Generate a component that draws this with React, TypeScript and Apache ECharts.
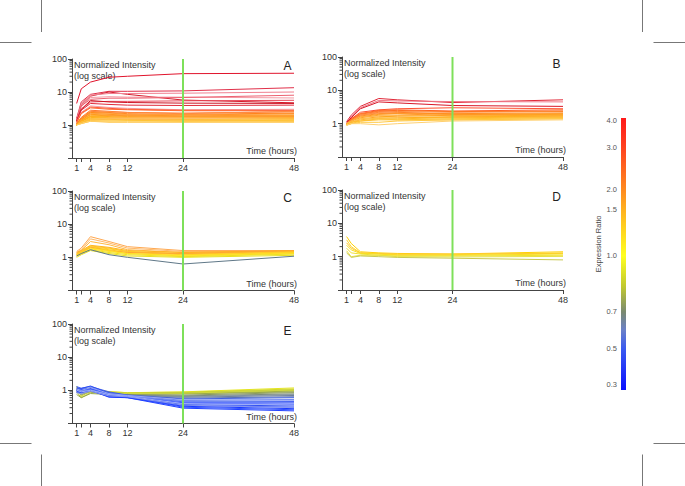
import React, { useEffect, useRef } from "react";
import * as echarts from "echarts";

// ---------- data ----------
const TIMES = [1, 2, 4, 8, 12, 24, 48];
const X_TICKS = [1, 2, 4, 8, 12, 24, 48];
const X_LABELS = [1, 4, 8, 12, 24, 48];
const Y_MINOR = [0.2, 0.3, 0.4, 0.5, 0.6, 0.7, 0.8, 0.9, 2, 3, 4, 5, 6, 7, 8, 9, 20, 30, 40, 50, 60, 70, 80, 90];
const GREEN_TIME = 24;
const PANEL_NAMES = ["A", "B", "C", "D", "E"];

const A_LINES = [
  [4.5, 12.5, 20, 28, 30, 36, 37],
  [1.6, 5.0, 8.5, 10.5, 10.5, 10.8, 13.5],
  [1.5, 4.0, 7.5, 10.0, 8.5, 5.7, 4.7],
  [1.5, 4.5, 8.0, 9.0, 9.0, 9.2, 10.0],
  [1.4, 3.6, 6.8, 7.2, 7.0, 7.0, 6.6],
  [1.4, 3.8, 6.0, 6.5, 6.5, 6.8, 8.0],
  [1.3, 3.0, 5.0, 5.2, 5.2, 5.4, 5.6],
  [1.3, 3.0, 5.5, 5.0, 4.8, 4.6, 4.5],
  [1.3, 2.8, 4.5, 4.2, 4.0, 3.9, 4.0],
  [1.2, 2.4, 3.8, 3.4, 3.2, 2.9, 3.0],
  [1.2, 2.3, 3.5, 3.2, 3.0, 2.8, 2.8],
  [1.2, 2.2, 3.3, 3.0, 2.9, 2.7, 2.7],
  [1.1, 1.7, 2.8, 2.6, 2.4, 2.3, 2.5],
  [1.1, 1.6, 2.6, 2.4, 2.2, 2.1, 2.3],
  [1.1, 1.6, 2.5, 2.5, 2.4, 2.2, 2.6],
  [1.1, 1.5, 2.4, 2.3, 2.1, 2.0, 2.2],
  [1.1, 1.5, 2.3, 2.1, 2.0, 1.9, 2.0],
  [1.0, 1.4, 2.2, 2.2, 2.1, 2.0, 2.0],
  [1.0, 1.4, 2.1, 2.0, 1.9, 1.8, 1.9],
  [1.0, 1.4, 2.0, 1.9, 1.8, 1.7, 1.8],
  [1.0, 1.3, 1.8, 1.9, 1.9, 1.8, 1.8],
  [1.0, 1.3, 1.9, 1.8, 1.7, 1.7, 1.7],
  [1.0, 1.3, 1.8, 1.7, 1.7, 1.6, 1.6],
  [1.0, 1.2, 1.6, 1.7, 1.7, 1.7, 1.7],
  [1.0, 1.3, 1.7, 1.6, 1.6, 1.5, 1.6],
  [1.0, 1.2, 1.6, 1.6, 1.5, 1.5, 1.5],
  [1.0, 1.2, 1.5, 1.6, 1.6, 1.6, 1.5],
  [1.0, 1.2, 1.5, 1.5, 1.4, 1.4, 1.4],
  [1.0, 1.2, 1.4, 1.5, 1.5, 1.4, 1.3],
  [1.0, 1.2, 1.4, 1.4, 1.4, 1.3, 1.4],
  [1.0, 1.1, 1.3, 1.3, 1.3, 1.3, 1.3],
  [1.0, 1.1, 1.3, 1.2, 1.2, 1.2, 1.2],
];
const A_COLORS = [
  "#e0142c", "#e0304a", "#d41a2a", "#f08090", "#f49aa4", "#ec6070", "#e84858", "#cc1222",
  "#e02a3a", "#f4a0a8", "#ff5a3a", "#ff6a30", "#ff7a2a", "#ff801e", "#ff8a40", "#ff8a1a",
  "#ff921a", "#ffa040", "#ff9a1a", "#ffa01e", "#ff9830", "#ffa81a", "#ffb01e", "#ffb040",
  "#ffb018", "#ffb828", "#ffc070", "#ffc020", "#ffb850", "#ffc030", "#ffc840", "#ffcc60",
];

const B_LINES = [
  [1.15, 1.8, 3.3, 5.7, 5.2, 4.3, 5.2],
  [1.1, 1.6, 3.0, 5.0, 4.8, 4.6, 4.5],
  [1.1, 1.5, 2.8, 4.5, 4.2, 3.5, 3.3],
  [1.0, 1.4, 2.2, 2.6, 2.8, 3.0, 2.8],
  [1.0, 1.4, 2.0, 2.5, 2.6, 2.4, 2.6],
  [1.0, 1.3, 1.9, 2.4, 2.5, 2.3, 2.4],
  [1.0, 1.3, 1.8, 2.2, 2.3, 2.2, 2.3],
  [1.0, 1.3, 2.0, 2.3, 2.2, 1.9, 1.8],
  [1.0, 1.2, 1.7, 2.0, 2.1, 2.0, 2.1],
  [1.0, 1.2, 1.8, 2.1, 2.0, 1.7, 1.6],
  [1.0, 1.2, 1.6, 1.9, 2.0, 1.9, 2.0],
  [1.0, 1.2, 1.5, 1.8, 1.8, 1.8, 1.9],
  [1.0, 1.2, 1.6, 1.7, 1.6, 1.5, 1.5],
  [0.95, 1.1, 1.4, 1.6, 1.7, 1.7, 1.8],
  [0.95, 1.1, 1.3, 1.5, 1.5, 1.6, 1.7],
  [1.0, 1.1, 1.4, 1.4, 1.3, 1.3, 1.4],
  [0.95, 1.1, 1.2, 1.4, 1.4, 1.5, 1.6],
  [0.9, 1.0, 1.2, 1.3, 1.3, 1.4, 1.5],
  [0.9, 1.0, 1.1, 1.1, 1.2, 1.3, 1.4],
  [0.9, 1.0, 1.0, 0.92, 1.0, 1.2, 1.3],
];
const B_COLORS = [
  "#e02838", "#f07888", "#d81828", "#ff5030", "#ff6020", "#ff7020", "#ff8020", "#ff7a30",
  "#ff8c20", "#ff9040", "#ff9820", "#ffa020", "#ffb040", "#ffa820", "#ffb020", "#ffc050",
  "#ffb828", "#ffc030", "#ffc840", "#ffd070",
];

const C_LINES = [
  [1.5, 1.9, 4.2, 3.0, 2.1, 1.6, 1.6],
  [1.4, 1.7, 3.6, 2.7, 1.9, 1.5, 1.5],
  [1.3, 1.6, 3.0, 2.4, 1.7, 1.4, 1.5],
  [1.4, 1.6, 2.3, 2.0, 1.6, 1.4, 1.6],
  [1.3, 1.5, 2.2, 1.9, 1.5, 1.3, 1.5],
  [1.2, 1.5, 2.1, 1.8, 1.5, 1.25, 1.45],
  [1.2, 1.4, 2.0, 1.7, 1.4, 1.2, 1.4],
  [1.2, 1.4, 2.0, 1.6, 1.4, 1.3, 1.6],
  [1.2, 1.4, 1.9, 1.6, 1.3, 1.15, 1.35],
  [1.1, 1.3, 1.8, 1.5, 1.3, 1.1, 1.3],
  [1.1, 1.3, 1.7, 1.4, 1.2, 1.05, 1.25],
  [1.0, 1.2, 1.6, 1.3, 1.1, 1.0, 1.15],
  [1.1, 1.3, 1.7, 1.2, 1.0, 0.63, 1.08],
];
const C_COLORS = [
  "#ffa850", "#ffb868", "#ffb840", "#ffb020", "#ffc020", "#ffc828", "#ffd020", "#ffa830",
  "#ffd820", "#ffe020", "#f0e020", "#e8e020", "#607888",
];

const D_LINES = [
  [4.0, 2.5, 1.4, 1.3, 1.25, 1.2, 1.4],
  [3.2, 2.0, 1.3, 1.2, 1.15, 1.15, 1.3],
  [2.6, 1.8, 1.3, 1.25, 1.2, 1.2, 1.25],
  [2.2, 1.6, 1.25, 1.2, 1.1, 1.1, 1.2],
  [1.8, 1.3, 1.2, 1.1, 1.05, 1.05, 1.1],
  [1.5, 1.0, 1.1, 1.1, 1.0, 0.98, 1.02],
  [1.3, 0.95, 1.05, 1.0, 0.95, 0.9, 0.8],
];
const D_COLORS = ["#ffd000", "#ffd830", "#ffc830", "#f8e020", "#f0e030", "#e8e040", "#c8c850"];

const E_LINES = [
  [1.1, 0.9, 1.05, 0.92, 0.85, 0.9, 1.18],
  [1.0, 0.8, 1.0, 0.9, 0.85, 0.88, 1.1],
  [1.3, 0.65, 0.98, 0.88, 0.82, 0.85, 1.05],
  [0.9, 0.6, 0.85, 0.85, 0.8, 0.83, 1.0],
  [1.0, 0.72, 0.9, 0.8, 0.78, 0.8, 0.95],
  [0.75, 0.6, 0.8, 0.75, 0.76, 0.78, 0.9],
  [1.05, 0.7, 0.92, 0.84, 0.8, 0.82, 1.02],
  [1.15, 0.9, 1.0, 0.72, 0.74, 0.72, 0.85],
  [1.0, 0.85, 0.92, 0.7, 0.7, 0.68, 0.78],
  [1.25, 1.05, 1.15, 0.8, 0.72, 0.62, 0.7],
  [1.0, 0.9, 1.0, 0.68, 0.68, 0.58, 0.64],
  [0.9, 0.75, 0.95, 0.66, 0.68, 0.65, 0.74],
  [1.1, 1.15, 1.3, 0.9, 0.72, 0.55, 0.6],
  [1.0, 1.0, 1.2, 0.85, 0.7, 0.5, 0.52],
  [1.3, 1.15, 1.35, 0.82, 0.7, 0.45, 0.46],
  [1.0, 1.05, 1.15, 0.76, 0.66, 0.42, 0.42],
  [1.15, 1.0, 1.1, 0.78, 0.68, 0.4, 0.38],
  [0.85, 0.95, 1.1, 0.72, 0.64, 0.37, 0.34],
  [1.0, 1.1, 1.05, 0.7, 0.62, 0.35, 0.31],
  [0.95, 0.9, 1.0, 0.62, 0.6, 0.33, 0.28],
  [1.05, 0.95, 1.15, 0.76, 0.64, 0.31, 0.26],
  [0.9, 0.85, 1.0, 0.65, 0.6, 0.29, 0.24],
  [1.0, 0.95, 1.05, 0.75, 0.68, 0.47, 0.44],
  [1.1, 1.0, 1.2, 0.8, 0.7, 0.52, 0.5],
  [1.0, 0.9, 1.0, 0.74, 0.66, 0.4, 0.36],
  [0.85, 0.8, 0.95, 0.68, 0.64, 0.36, 0.3],
];
const E_COLORS = [
  "#e6e620", "#d8dc28", "#c8d030", "#b8c438", "#a8b440", "#98a848", "#d0d840", "#8a9a60",
  "#7a8c70", "#6a7c98", "#5a70b0", "#8090a0", "#4060e0", "#3a58ec", "#3050f4", "#2848fa",
  "#2040ff", "#2a4af0", "#2040f8", "#1838ff", "#3050ff", "#2040ff", "#7088f0", "#98a8f4",
  "#a0b0f8", "#8898f0",
];

const PANEL_LINES = [A_LINES, B_LINES, C_LINES, D_LINES, E_LINES];
const PANEL_COLORS = [A_COLORS, B_COLORS, C_COLORS, D_COLORS, E_COLORS];

const COLORBAR_LABELS = [4.0, 3.0, 2.0, 1.5, 1.0, 0.7, 0.5, 0.3];

// ---------- layout ----------
const GRIDS = [
  { left: 72, top: 59, width: 222, height: 99 },
  { left: 342, top: 57, width: 221, height: 100 },
  { left: 72, top: 191, width: 222, height: 99.5 },
  { left: 342, top: 190, width: 221, height: 100 },
  { left: 72, top: 324, width: 222, height: 99.5 },
];
const BAR = { x: 621, y: 118, w: 5, h: 272 };
const COLORBAR_LABEL_FRAC = [0.01, 0.107, 0.263, 0.335, 0.507, 0.713, 0.849, 0.978];
const FONT = "'Liberation Sans', Arial, sans-serif";
const TEXT = "#333";

export default function App() {
  const ref = useRef<HTMLDivElement>(null);
  useEffect(() => {
    if (!ref.current) return;
    const chart = echarts.init(ref.current, null, { renderer: "svg" });

    const xAxis: any[] = [];
    const yAxis: any[] = [];
    const series: any[] = [];
    const graphic: any[] = [];

    GRIDS.forEach((g, p) => {
      xAxis.push({
        type: "value",
        gridIndex: p,
        min: 0,
        max: 48,
        axisLine: { show: true, lineStyle: { color: "#444", width: 1 } },
        axisTick: { show: true, length: 4, customValues: X_TICKS, lineStyle: { color: "#444" } },
        axisLabel: { customValues: X_LABELS, fontSize: 9, color: TEXT, fontFamily: FONT, margin: 5 },
        splitLine: { show: false },
      });
      yAxis.push({
        type: "log",
        logBase: 10,
        gridIndex: p,
        min: 0.1,
        max: 100,
        splitNumber: 3,
        axisLine: { show: true, lineStyle: { color: "#444", width: 1 } },
        axisTick: { show: true, length: 4, lineStyle: { color: "#444" } },
        axisLabel: {
          fontSize: 9,
          color: TEXT,
          fontFamily: FONT,
          margin: 5,
          formatter: (v: number) => (v >= 0.99 ? String(Math.round(v)) : ""),
        },
        splitLine: { show: false },
      });

      PANEL_LINES[p].forEach((vals, i) => {
        series.push({
          type: "line",
          xAxisIndex: p,
          yAxisIndex: p,
          data: TIMES.map((t, k) => [t, vals[k]]),
          symbol: "none",
          silent: true,
          lineStyle: { width: 1, color: PANEL_COLORS[p][i] },
          itemStyle: { color: PANEL_COLORS[p][i] },
          z: 2,
        });
      });

      // green vertical line at 24 h
      series.push({
        type: "line",
        xAxisIndex: p,
        yAxisIndex: p,
        data: [
          [GREEN_TIME, 0.1],
          [GREEN_TIME, 100],
        ],
        symbol: "none",
        silent: true,
        lineStyle: { width: 2, color: "#7ee05a" },
        z: 4,
      });

      // log minor ticks
      series.push({
        type: "custom",
        xAxisIndex: p,
        yAxisIndex: p,
        clip: false,
        silent: true,
        data: Y_MINOR.map((v) => [0, v]),
        renderItem: (params: any, api: any) => {
          const pt = api.coord([api.value(0), api.value(1)]);
          return {
            type: "line",
            shape: { x1: pt[0] - 2.5, y1: pt[1], x2: pt[0], y2: pt[1] },
            style: { stroke: "#444", lineWidth: 1 },
          };
        },
        z: 3,
      });

      graphic.push(
        {
          type: "text",
          left: g.left + 2,
          top: g.top + 1,
          style: { text: "Normalized Intensity", font: `9px ${FONT}`, fill: TEXT },
        },
        {
          type: "text",
          left: g.left + 2,
          top: g.top + 12,
          style: { text: "(log scale)", font: `9px ${FONT}`, fill: TEXT },
        },
        {
          type: "text",
          x: g.left + g.width - 6.5,
          y: g.top + 6.5,
          style: {
            text: PANEL_NAMES[p],
            font: `12px ${FONT}`,
            fill: "#222",
            align: "center",
            verticalAlign: "middle",
          },
        },
        {
          type: "text",
          x: g.left + g.width + 3,
          y: g.top + g.height - 7,
          style: {
            text: "Time (hours)",
            font: `9px ${FONT}`,
            fill: TEXT,
            align: "right",
            verticalAlign: "middle",
          },
        }
      );
    });

    // colour bar
    graphic.push({
      type: "rect",
      shape: { x: BAR.x, y: BAR.y, width: BAR.w, height: BAR.h },
      style: {
        fill: new echarts.graphic.LinearGradient(0, 0, 0, 1, [
          { offset: 0, color: "#ff1a1a" },
          { offset: 0.107, color: "#ff4220" },
          { offset: 0.263, color: "#ff8a20" },
          { offset: 0.335, color: "#ffb020" },
          { offset: 0.42, color: "#ffd820" },
          { offset: 0.507, color: "#ffff20" },
          { offset: 0.62, color: "#c0c830" },
          { offset: 0.713, color: "#7a8a70" },
          { offset: 0.78, color: "#6a80c8" },
          { offset: 0.849, color: "#3a5af0" },
          { offset: 1, color: "#0a10ff" },
        ]),
      },
    });
    COLORBAR_LABELS.forEach((v, i) => {
      graphic.push({
        type: "text",
        x: BAR.x - 4,
        y: BAR.y + COLORBAR_LABEL_FRAC[i] * BAR.h,
        style: {
          text: v.toFixed(1),
          font: `7.5px ${FONT}`,
          fill: "#555",
          align: "right",
          verticalAlign: "middle",
        },
      });
    });
    graphic.push({
      type: "text",
      x: 598,
      y: BAR.y + BAR.h * 0.5 - 10,
      rotation: Math.PI / 2,
      style: {
        text: "Expression Ratio",
        font: `7.5px ${FONT}`,
        fill: "#444",
        align: "center",
        verticalAlign: "middle",
      },
    });

    // crop marks
    const cropColor = "#777";
    const crops = [
      [41.5, 0, 41.5, 32],
      [0, 42.5, 31.5, 42.5],
      [642.5, 0, 642.5, 32],
      [653.5, 42.5, 685, 42.5],
      [0, 443.5, 31.5, 443.5],
      [41.5, 454.5, 41.5, 486],
      [653.5, 443.5, 685, 443.5],
      [642.5, 454.5, 642.5, 486],
    ];
    crops.forEach((c) => {
      graphic.push({
        type: "line",
        shape: { x1: c[0], y1: c[1], x2: c[2], y2: c[3] },
        style: { stroke: cropColor, lineWidth: 1 },
      });
    });

    chart.setOption({
      animation: false,
      backgroundColor: "#ffffff",
      grid: GRIDS.map((g) => ({ ...g, containLabel: false })),
      xAxis,
      yAxis,
      series,
      graphic,
    });
    return () => chart.dispose();
  }, []);
  return (
    <div
      ref={ref}
      style={{ position: "absolute", left: 0, top: 0, width: 685, height: 486 }}
    />
  );
}
